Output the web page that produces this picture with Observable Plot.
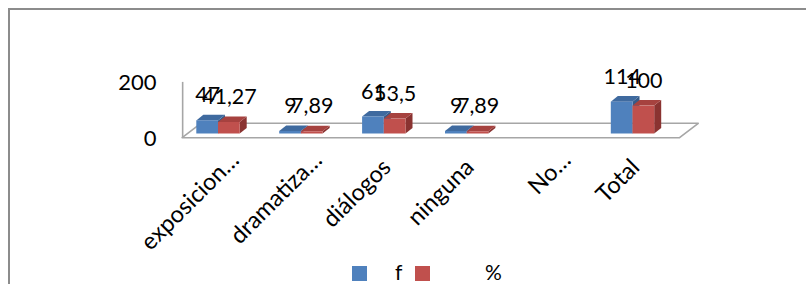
<!DOCTYPE html>
<html>
<head>
<meta charset="utf-8">
<script src="https://cdn.jsdelivr.net/npm/d3@7"></script>
<script src="https://cdn.jsdelivr.net/npm/@observablehq/plot@0.6"></script>
<style>
  body { margin: 0; background: #fff; }
  #wrap { position: relative; width: 806px; height: 284px; overflow: hidden; font-family: Lato, "Open Sans", sans-serif; color: #000; }
  #chart svg { display: block; }
  #frame { position: absolute; left: 8px; top: 8px; width: 1000px; height: 1000px; border: 2px solid #8c8c8c; box-sizing: border-box; pointer-events: none; }
  #legend { position: absolute; left: 0; top: 258px; width: 806px; height: 26px; }
  .sw { position: absolute; top: 8px; width: 15px; height: 15px; }
  .lt { position: absolute; top: 3px; font-size: 21px; line-height: 22px; }
</style>
</head>
<body>
<div id="wrap">
  <div id="chart"></div>
  <div id="legend"></div>
  <div id="frame"></div>
</div>
<script>
// ---- data ----
const categories = ["exposicion…", "dramatiza…", "diálogos", "ninguna", "No…", "Total"];
const fValues    = [47, 9, 61, 9, null, 114];
const pctValues  = [41.27, 7.89, 53.5, 7.89, null, 100];
const seriesNames = ["f", "%"];
const yTicks = [0, 200];

// ---- styles ----
const frontColors = ["#4f81bd", "#c0504d"];
const topColors   = ["#3f6a9f", "#a6423f"];
const sideColors  = ["#355b89", "#8a3331"];

// ---- geometry (pixels) ----
const W = 806, H = 258;
const X0 = 218, STEP = 82.9;      // first category centre, category step
const Y0 = 137.7, PPU = 0.279;    // front-plane zero line, px per unit
const marginLeft = X0 - 0.5 * STEP;
const marginRight = W - (X0 + 5.5 * STEP);
const marginBottom = H - Y0;
const marginTop = Y0 - 200 * PPU;

const barW = 21.7 / STEP;         // bar width in x units
const dX = 7 / STEP, dY = 5.6 / PPU;       // bar depth
const barDY = -4.2;                         // bars sit a bit behind front plane
const fdX = 18.7 / STEP, fdY = 14.4 / PPU;  // floor depth

const fmt = v => String(v).replace(".", ",");

// build bars
const bars = [];
categories.forEach((c, i) => {
  [fValues[i], pctValues[i]].forEach((v, s) => {
    if (v == null) return;
    const x1 = s === 0 ? i - barW : i;
    bars.push({id: c + s, cat: c, i, s, v, x1, x2: x1 + barW, label: fmt(v)});
  });
});

function sidePts(b) {
  return [
    {id: b.id, s: b.s, x: b.x2, y1: 0, y2: b.v},
    {id: b.id, s: b.s, x: b.x2 + dX, y1: dY, y2: b.v + dY}
  ];
}
function topPts(b) {
  return [
    {id: b.id, s: b.s, x: b.x1, y1: b.v, y2: b.v},
    {id: b.id, s: b.s, x: b.x1 + dX, y1: b.v, y2: b.v + dY},
    {id: b.id, s: b.s, x: b.x2, y1: b.v, y2: b.v + dY},
    {id: b.id, s: b.s, x: b.x2 + dX, y1: b.v + dY, y2: b.v + dY}
  ];
}

const floorPts = [
  {x: -0.5, y1: 0, y2: 0},
  {x: -0.5 + fdX, y1: 0, y2: fdY},
  {x: 5.5, y1: 0, y2: fdY},
  {x: 5.5 + fdX, y1: fdY, y2: fdY}
];

const marks = [
  Plot.areaY(floorPts, {x: "x", y1: "y1", y2: "y2", fill: "#fff", stroke: "#a6a6a6", strokeWidth: 1.6, dx: 5.6}),
  Plot.ruleX([-0.5], {y1: () => 0, y2: () => 200, stroke: "#a6a6a6", strokeWidth: 1.6, dx: 5.6}),
];

[0, 1].forEach(s => {
  const bs = bars.filter(b => b.s === s);
  bs.forEach(b => {
    marks.push(Plot.areaY(sidePts(b), {x: "x", y1: "y1", y2: "y2", fill: sideColors[s], dy: barDY}));
    marks.push(Plot.areaY(topPts(b), {x: "x", y1: "y1", y2: "y2", fill: topColors[s], dy: barDY}));
  });
  marks.push(Plot.rect(bs, {x1: "x1", x2: "x2", y1: () => 0, y2: "v", fill: frontColors[s], dy: barDY}));
});

// data labels
[0, 1].forEach(s => {
  marks.push(Plot.text(bars.filter(b => b.s === s), {
    x: b => (b.x1 + b.x2) / 2, y: "v", text: "label",
    textAnchor: "middle", lineAnchor: "bottom", dy: barDY - 18.4,
    fontSize: 21.5, fill: "#000"
  }));
});

// y tick labels
marks.push(Plot.text(yTicks, {
  y: d => d, text: d => String(d), frameAnchor: "left",
  textAnchor: "end", dx: -20.5, dy: 1, fontSize: 22, fill: "#000"
}));

// category labels (rotated)
marks.push(Plot.text(categories, {
  filter: d => d.endsWith("…"), x: (d, i) => i, text: d => d,
  frameAnchor: "bottom", rotate: -45, textAnchor: "end", lineAnchor: "bottom",
  dx: 22, dy: 23.3, fontSize: 23.5, fill: "#000"
}));
marks.push(Plot.text(categories, {
  filter: d => !d.endsWith("…"), x: (d, i) => i, text: d => d,
  frameAnchor: "bottom", rotate: -45, textAnchor: "end", lineAnchor: "bottom",
  dx: 8, dy: 30.5, fontSize: 23.5, fill: "#000"
}));

const plot = Plot.plot({
  width: W, height: H,
  marginLeft, marginRight, marginTop, marginBottom,
  x: {type: "linear", domain: [-0.5, 5.5], axis: null},
  y: {type: "linear", domain: [0, 200], axis: null},
  style: {fontFamily: "Lato, 'Open Sans', sans-serif", background: "transparent", overflow: "visible"},
  marks
});
document.getElementById("chart").appendChild(plot);

// legend
const legend = document.getElementById("legend");
const legendPos = [{sw: 352, tx: 395}, {sw: 415, tx: 485}];
seriesNames.forEach((name, s) => {
  const sw = document.createElement("div");
  sw.className = "sw"; sw.style.left = legendPos[s].sw + "px"; sw.style.background = frontColors[s];
  legend.appendChild(sw);
  const t = document.createElement("span");
  t.className = "lt"; t.style.left = legendPos[s].tx + "px"; t.textContent = name;
  legend.appendChild(t);
});
</script>
</body>
</html>
